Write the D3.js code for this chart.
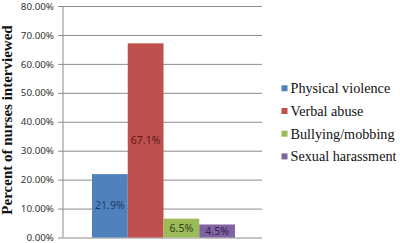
<!DOCTYPE html>
<html><head><meta charset="utf-8">
<script src="https://cdn.jsdelivr.net/npm/d3@7"></script>
<style>body{margin:0;background:#fff}svg{display:block}
.serif{font-family:"Liberation Serif","Times New Roman",serif}
.sans{font-family:"Noto Sans","DejaVu Sans",sans-serif}
</style>
</head><body>
<svg id="c" width="400" height="243"></svg>
<script>
const categories = ["Physical violence","Verbal abuse","Bullying/mobbing","Sexual harassment"];
const values = [21.9, 67.1, 6.5, 4.5];
const labels = ["21.9%","67.1%","6.5%","4.5%"];
const colors = ["#4F81BD","#C0504D","#9BBB59","#8064A2"];
const labelColors = ["#1F3A66","#5A1A18","#2E3F12","#2E2050"];
const yTicks = [0,10,20,30,40,50,60,70,80];
const yTitle = "Percent of nurses interviewed";

const svg = d3.select("#c");
const L = 63, R = 262, T = 6, B = 237.5;
const y = d3.scaleLinear().domain([0,80]).range([B,T]);
const x = d3.scaleBand().domain(categories).range([92,235]).padding(0);

const yAxis = d3.axisLeft(y).tickValues(yTicks).tickSize(-(R-L)).tickSizeOuter(0)
  .tickFormat(d => d.toFixed(2) + "%").tickPadding(9);
const g = svg.append("g").attr("transform",`translate(${L},0)`).call(yAxis);
g.attr("font-family",null);
g.select(".domain").remove();
g.selectAll(".tick line").attr("stroke","#8c8c8c").attr("x1",-5);
g.selectAll(".tick text").attr("class","sans").style("font-size","9.8px").attr("fill","#333");

svg.append("line").attr("x1",L).attr("x2",L).attr("y1",T).attr("y2",B).attr("stroke","#8c8c8c");

svg.selectAll("rect.bar").data(categories).join("rect").attr("class","bar")
  .attr("x",d=>x(d)).attr("width",x.bandwidth())
  .attr("y",(d,i)=>y(values[i])).attr("height",(d,i)=>B-y(values[i]))
  .attr("fill",(d,i)=>colors[i]);

svg.selectAll("text.lbl").data(categories).join("text").attr("class","lbl sans")
  .attr("x",d=>x(d)+x.bandwidth()/2)
  .attr("y",(d,i)=>(y(values[i])+B)/2)
  .attr("dy","0.35em").attr("text-anchor","middle")
  .style("font-size","10.5px")
  .attr("fill",(d,i)=>labelColors[i]).text((d,i)=>labels[i]);

svg.append("text").attr("class","serif").attr("transform","translate(7,120) rotate(-90)")
  .attr("text-anchor","middle").attr("dy","0.35em")
  .style("font-weight","bold").style("font-size","15px").attr("fill","#111").text(yTitle);

const leg = svg.append("g");
categories.forEach((c,i)=>{
  const cy = 88.3 + i*22.7;
  leg.append("rect").attr("x",281.5).attr("y",cy-3).attr("width",6).attr("height",6).attr("fill",colors[i]);
  leg.append("text").attr("class","serif").attr("x",290.5).attr("y",cy).attr("dy","0.35em")
    .style("font-size","14.2px").attr("fill","#111").text(c);
});
</script>
</body></html>
